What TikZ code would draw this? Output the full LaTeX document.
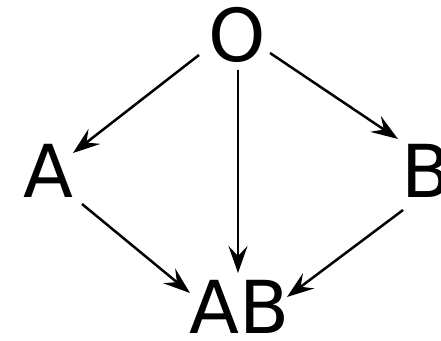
\documentclass[tikz,border=0pt]{standalone}
\usepackage{fontspec}
\setmainfont{DejaVu Sans}
\usetikzlibrary{arrows.meta,calc}
\begin{document}
\begin{tikzpicture}[x=1pt,y=-1pt,
  lbl/.style={anchor=base,inner sep=0pt,font=\fontsize{73}{80}\selectfont},
  arr/.style={line width=2.5pt,-{Stealth[length=27pt,width=19pt,inset=10pt]}}]
\useasboundingbox (0,0) rectangle (441,340);
\node[lbl] (O) at (237,61) {O};
\node[lbl] (A) at (48.5,197) {A};
\node[lbl] (B) at (427,197) {B};
\node[lbl] (AB) at (240,333) {AB};
\draw[arr] ($(O.base)+(-38,-6)$) -- ($(A.base)+(24.5,-44)$);
\draw[arr] ($(O.base)+(33,-8)$) -- ($(B.base)+(-29,-58)$);
\draw[arr] ($(O.base)+(1,9)$) -- ($(AB.base)+(-2,-60)$);
\draw[arr] ($(A.base)+(33.5,7)$) -- ($(AB.base)+(-50,-40)$);
\draw[arr] ($(B.base)+(-24,13)$) -- ($(AB.base)+(47,-36)$);
\end{tikzpicture}
\end{document}
